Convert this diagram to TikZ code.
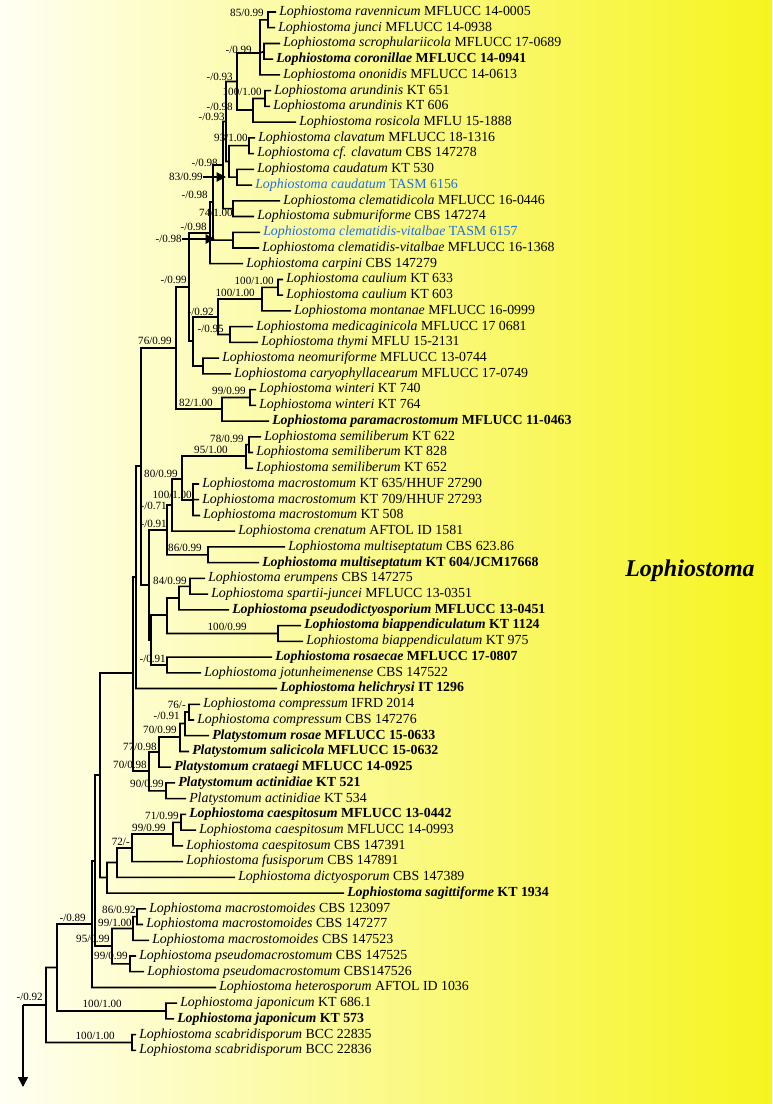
\documentclass[tikz,border=0pt]{standalone}
\usepackage{fontspec}
\setmainfont{Liberation Serif}
\usetikzlibrary{arrows.meta}
\definecolor{bgleft}{RGB}{255,255,243}
\definecolor{bgmid}{RGB}{253,252,168}
\definecolor{bgright}{RGB}{246,244,30}
\definecolor{newblue}{RGB}{32,108,232}

\begin{document}
\begin{tikzpicture}[x=0.75pt, y=-0.75pt,
  branch/.style={line width=1.15pt},
  taxon/.style={anchor=west, inner xsep=2.25pt, inner ysep=0pt, text height=7pt, text depth=2pt, font=\fontsize{10.4}{12}\selectfont},
  support/.style={anchor=east, inner sep=0pt, text height=5.6pt, text depth=0.3pt, font=\fontsize{8.3}{9}\selectfont},
  pointer/.style={line width=0.9pt, -{Triangle[length=7pt, width=7pt]}}]

\shade[left color=bgleft, middle color=bgmid, right color=bgright] (0,0) rectangle (772,1104);

% taxa
\node[taxon] (t01) at (276,12.0) {\textit{Lophiostoma ravennicum} MFLUCC 14-0005};
\node[taxon] (t02) at (275,27.7) {\textit{Lophiostoma junci} MFLUCC 14-0938};
\node[taxon] (t03) at (280,43.5) {\textit{Lophiostoma scrophulariicola} MFLUCC 17-0689};
\node[taxon] (t04) at (273,59.2) {\bfseries\textit{Lophiostoma coronillae} MFLUCC 14-0941};
\node[taxon] (t05) at (280,74.9) {\textit{Lophiostoma ononidis} MFLUCC 14-0613};
\node[taxon] (t06) at (271,90.7) {\textit{Lophiostoma arundinis} KT 651};
\node[taxon] (t07) at (270,106.4) {\textit{Lophiostoma arundinis} KT 606};
\node[taxon] (t08) at (296,122.1) {\textit{Lophiostoma rosicola} MFLU 15-1888};
\node[taxon] (t09) at (255,137.9) {\textit{Lophiostoma clavatum} MFLUCC 18-1316};
\node[taxon] (t10) at (254,153.6) {\textit{Lophiostoma cf. clavatum} CBS 147278};
\node[taxon] (t11) at (254,169.3) {\textit{Lophiostoma caudatum} KT 530};
\node[taxon, text=newblue] (t12) at (252,185.1) {\textit{Lophiostoma caudatum} TASM 6156};
\node[taxon] (t13) at (280,200.8) {\textit{Lophiostoma clematidicola} MFLUCC 16-0446};
\node[taxon] (t14) at (254,216.5) {\textit{Lophiostoma submuriforme} CBS 147274};
\node[taxon, text=newblue] (t15) at (260,232.3) {\textit{Lophiostoma clematidis-vitalbae} TASM 6157};
\node[taxon] (t16) at (259,248.0) {\textit{Lophiostoma clematidis-vitalbae} MFLUCC 16-1368};
\node[taxon] (t17) at (243,263.7) {\textit{Lophiostoma carpini} CBS 147279};
\node[taxon] (t18) at (283,279.5) {\textit{Lophiostoma caulium} KT 633};
\node[taxon] (t19) at (283,295.2) {\textit{Lophiostoma caulium} KT 603};
\node[taxon] (t20) at (291,310.9) {\textit{Lophiostoma montanae} MFLUCC 16-0999};
\node[taxon] (t21) at (253,326.7) {\textit{Lophiostoma medicaginicola} MFLUCC 17 0681};
\node[taxon] (t22) at (258,342.4) {\textit{Lophiostoma thymi} MFLU 15-2131};
\node[taxon] (t23) at (219,358.1) {\textit{Lophiostoma neomuriforme} MFLUCC 13-0744};
\node[taxon] (t24) at (231,373.9) {\textit{Lophiostoma caryophyllacearum} MFLUCC 17-0749};
\node[taxon] (t25) at (256,389.6) {\textit{Lophiostoma winteri} KT 740};
\node[taxon] (t26) at (256,405.3) {\textit{Lophiostoma winteri} KT 764};
\node[taxon] (t27) at (269,421.1) {\bfseries\textit{Lophiostoma paramacrostomum} MFLUCC 11-0463};
\node[taxon] (t28) at (261,436.8) {\textit{Lophiostoma semiliberum} KT 622};
\node[taxon] (t29) at (253,452.5) {\textit{Lophiostoma semiliberum} KT 828};
\node[taxon] (t30) at (253,468.3) {\textit{Lophiostoma semiliberum} KT 652};
\node[taxon] (t31) at (199,484.0) {\textit{Lophiostoma macrostomum} KT 635/HHUF 27290};
\node[taxon] (t32) at (199,499.7) {\textit{Lophiostoma macrostomum} KT 709/HHUF 27293};
\node[taxon] (t33) at (200,515.5) {\textit{Lophiostoma macrostomum} KT 508};
\node[taxon] (t34) at (235,531.2) {\textit{Lophiostoma crenatum} AFTOL ID 1581};
\node[taxon] (t35) at (285,546.9) {\textit{Lophiostoma multiseptatum} CBS 623.86};
\node[taxon] (t36) at (259,562.7) {\bfseries\textit{Lophiostoma multiseptatum} KT 604/JCM17668};
\node[taxon] (t37) at (205,578.4) {\textit{Lophiostoma erumpens} CBS 147275};
\node[taxon] (t38) at (208,594.1) {\textit{Lophiostoma spartii-juncei} MFLUCC 13-0351};
\node[taxon] (t39) at (229,609.9) {\bfseries\textit{Lophiostoma pseudodictyosporium} MFLUCC 13-0451};
\node[taxon] (t40) at (301,625.6) {\bfseries\textit{Lophiostoma biappendiculatum} KT 1124};
\node[taxon] (t41) at (303,641.3) {\textit{Lophiostoma biappendiculatum} KT 975};
\node[taxon] (t42) at (272,657.1) {\bfseries\textit{Lophiostoma rosaecae} MFLUCC 17-0807};
\node[taxon] (t43) at (201,672.8) {\textit{Lophiostoma jotunheimenense} CBS 147522};
\node[taxon] (t44) at (277,688.5) {\bfseries\textit{Lophiostoma helichrysi} IT 1296};
\node[taxon] (t45) at (200,704.3) {\textit{Lophiostoma compressum} IFRD 2014};
\node[taxon] (t46) at (194,720.0) {\textit{Lophiostoma compressum} CBS 147276};
\node[taxon] (t47) at (209,735.7) {\bfseries\textit{Platystomum rosae} MFLUCC 15-0633};
\node[taxon] (t48) at (189,751.5) {\bfseries\textit{Platystomum salicicola} MFLUCC 15-0632};
\node[taxon] (t49) at (171,767.2) {\bfseries\textit{Platystomum crataegi} MFLUCC 14-0925};
\node[taxon] (t50) at (175,782.9) {\bfseries\textit{Platystomum actinidiae} KT 521};
\node[taxon] (t51) at (186,798.7) {\textit{Platystomum actinidiae} KT 534};
\node[taxon] (t52) at (186,814.4) {\bfseries\textit{Lophiostoma caespitosum} MFLUCC 13-0442};
\node[taxon] (t53) at (196,830.1) {\textit{Lophiostoma caespitosum} MFLUCC 14-0993};
\node[taxon] (t54) at (183,845.9) {\textit{Lophiostoma caespitosum} CBS 147391};
\node[taxon] (t55) at (183,861.6) {\textit{Lophiostoma fusisporum} CBS 147891};
\node[taxon] (t56) at (235,877.3) {\textit{Lophiostoma dictyosporum} CBS 147389};
\node[taxon] (t57) at (344,893.1) {\bfseries\textit{Lophiostoma sagittiforme} KT 1934};
\node[taxon] (t58) at (146,908.8) {\textit{Lophiostoma macrostomoides} CBS 123097};
\node[taxon] (t59) at (143,924.5) {\textit{Lophiostoma macrostomoides} CBS 147277};
\node[taxon] (t60) at (149,940.3) {\textit{Lophiostoma macrostomoides} CBS 147523};
\node[taxon] (t61) at (136,956.0) {\textit{Lophiostoma pseudomacrostomum} CBS 147525};
\node[taxon] (t62) at (144,971.7) {\textit{Lophiostoma pseudomacrostomum} CBS147526};
\node[taxon] (t63) at (216,987.5) {\textit{Lophiostoma heterosporum} AFTOL ID 1036};
\node[taxon] (t64) at (177,1003.2) {\textit{Lophiostoma japonicum} KT 686.1};
\node[taxon] (t65) at (174,1018.9) {\bfseries\textit{Lophiostoma japonicum} KT 573};
\node[taxon] (t66) at (136,1034.7) {\textit{Lophiostoma scabridisporum} BCC 22835};
\node[taxon] (t67) at (136,1050.4) {\textit{Lophiostoma scabridisporum} BCC 22836};

% internal nodes
\coordinate (P1) at (268,19.9);
\coordinate (P2) at (264,51.3);
\coordinate (A) at (260,53);
\coordinate (AR) at (265,98.5);
\coordinate (Q) at (253,110);
\coordinate (B) at (237,81.5);
\coordinate (CL) at (249,145.7);
\coordinate (CA) at (237,177.2);
\coordinate (C) at (229,161.5);
\coordinate (R) at (226,121.5);
\coordinate (K) at (233,208.7);
\coordinate (L) at (223,165);
\coordinate (CV) at (233,240.1);
\coordinate (M) at (213,202);
\coordinate (I) at (210,233);
\coordinate (CP) at (278,287.3);
\coordinate (CM) at (262,299);
\coordinate (MT) at (230,334.5);
\coordinate (E) at (218,317);
\coordinate (NC) at (203,366);
\coordinate (F) at (193,341);
\coordinate (D) at (189,287);
\coordinate (WP) at (250,397.5);
\coordinate (H) at (222,409);
\coordinate (G) at (176,348);
\coordinate (SP) at (249,444.7);
\coordinate (SL) at (246,456);
\coordinate (MC) at (193,500);
\coordinate (CC) at (182,479);
\coordinate (DD) at (172,505);
\coordinate (MS) at (208,554.8);
\coordinate (EE) at (167,530);
\coordinate (EJ) at (190,586.3);
\coordinate (GG) at (179,598);
\coordinate (BI) at (278,633.5);
\coordinate (HH) at (167,615);
\coordinate (RJ) at (167,665);
\coordinate (II) at (151,640);
\coordinate (FF) at (149,585);
\coordinate (JJ) at (141,466);
\coordinate (KK) at (136,577);
\coordinate (CO) at (189,712);
\coordinate (P91) at (185,723.5);
\coordinate (P70) at (180,737);
\coordinate (P77) at (159,752);
\coordinate (AP) at (166,790.8);
\coordinate (PL) at (149,771);
\coordinate (BB) at (133,673);
\coordinate (CS) at (181,822.3);
\coordinate (AA) at (173,834);
\coordinate (Z) at (132,848);
\coordinate (Y) at (117,862.5);
\coordinate (X) at (107,877.5);
\coordinate (W) at (100,775);
\coordinate (MP) at (137,916.7);
\coordinate (V) at (133,928.5);
\coordinate (PM) at (130,963.9);
\coordinate (U) at (112,946);
\coordinate (T2) at (95,861);
\coordinate (T) at (92,924);
\coordinate (JP) at (166,1011);
\coordinate (N) at (57,967.5);
\coordinate (SC) at (132,1042.5);
\coordinate (RT) at (46,1005);
\coordinate (root) at (23,1005);
\coordinate (rootend) at (23,1087);

% branches
\draw[branch] (P1) |- (t01.west) (P1) |- (t02.west)
  (P2) |- (t03.west) (P2) |- (t04.west)
  (A) |- (P1) (A) -- (P2) (A) |- (t05.west)
  (AR) |- (t06.west) (AR) |- (t07.west)
  (Q) |- (AR) (Q) |- (t08.west)
  (B) |- (A) (B) |- (Q)
  (CL) |- (t09.west) (CL) |- (t10.west)
  (CA) |- (t11.west) (CA) |- (t12.west)
  (C) |- (CL) (C) |- (CA)
  (R) |- (B) (R) |- (C)
  (K) |- (t13.west) (K) |- (t14.west)
  (L) |- (R) (L) |- (K)
  (CV) |- (t15.west) (CV) |- (t16.west)
  (M) |- (L) (M) |- (CV)
  (I) |- (M) (I) |- (t17.west)
  (CP) |- (t18.west) (CP) |- (t19.west)
  (CM) |- (CP) (CM) |- (t20.west)
  (MT) |- (t21.west) (MT) |- (t22.west)
  (E) |- (CM) (E) |- (MT)
  (NC) |- (t23.west) (NC) |- (t24.west)
  (F) |- (E) (F) |- (NC)
  (D) |- (I) (D) |- (F)
  (WP) |- (t25.west) (WP) |- (t26.west)
  (H) |- (WP) (H) |- (t27.west)
  (G) |- (D) (G) |- (H)
  (SP) |- (t28.west) (SP) |- (t29.west)
  (SL) |- (SP) (SL) |- (t30.west)
  (MC) |- (t31.west) (MC) |- (t32.west) (MC) |- (t33.west)
  (CC) |- (SL) (CC) |- (MC)
  (DD) |- (CC) (DD) |- (t34.west)
  (MS) |- (t35.west) (MS) |- (t36.west)
  (EE) |- (DD) (EE) |- (MS)
  (EJ) |- (t37.west) (EJ) |- (t38.west)
  (GG) |- (EJ) (GG) |- (t39.west)
  (BI) |- (t40.west) (BI) |- (t41.west)
  (HH) |- (GG) (HH) |- (BI)
  (RJ) |- (t42.west) (RJ) |- (t43.west)
  (II) |- (HH) (II) |- (RJ)
  (FF) |- (EE) (FF) |- (II)
  (JJ) |- (G) (JJ) |- (FF)
  (KK) |- (JJ) (KK) |- (t44.west)
  (CO) |- (t45.west) (CO) |- (t46.west)
  (P91) |- (CO) (P91) |- (t47.west)
  (P70) |- (P91) (P70) |- (t48.west)
  (P77) |- (P70) (P77) |- (t49.west)
  (AP) |- (t50.west) (AP) |- (t51.west)
  (PL) |- (P77) (PL) |- (AP)
  (BB) |- (KK) (BB) |- (PL)
  (CS) |- (t52.west) (CS) |- (t53.west)
  (AA) |- (CS) (AA) |- (t54.west)
  (Z) |- (AA) (Z) |- (t55.west)
  (Y) |- (Z) (Y) |- (t56.west)
  (X) |- (Y) (X) |- (t57.west)
  (W) |- (BB) (W) |- (X)
  (MP) |- (t58.west) (MP) |- (t59.west)
  (V) |- (MP) (V) |- (t60.west)
  (PM) |- (t61.west) (PM) |- (t62.west)
  (U) |- (V) (U) |- (PM)
  (T2) |- (W) (T2) |- (U)
  (T) |- (T2) (T) |- (t63.west)
  (JP) |- (t64.west) (JP) |- (t65.west)
  (N) |- (T) (N) |- (JP)
  (SC) |- (t66.west) (SC) |- (t67.west)
  (RT) |- (N) (RT) |- (SC)
  (root) -- (RT);
\draw[branch, -{Triangle[length=7.5pt, width=7.5pt]}] (root) -- (rootend);

% support values
\node[support] (sP1) at (264,13) {85/0.99};
\node[support] (sA) at (252,50) {-/0.99};
\node[support] (sB) at (233,77) {-/0.93};
\node[support] (sAR) at (262,92) {100/1.00};
\node[support] (sQ) at (233,107) {-/0.98};
\node[support] (sR) at (225,117) {-/0.93};
\node[support] (sCL) at (248,138) {93/1.00};
\node[support] (sL) at (218,163) {-/0.98};
\node[support] (sC) at (203,177) {83/0.99};
\node[support] (sM) at (208,195) {-/0.98};
\node[support] (sK) at (233,213) {74/1.00};
\node[support] (sI) at (207,227) {-/0.98};
\node[support] (sI2) at (182,239) {-/0.98};
\node[support] (sD) at (187,280) {-/0.99};
\node[support] (sCP) at (274,281) {100/1.00};
\node[support] (sCM) at (255,293) {100/1.00};
\node[support] (sE) at (214,312) {-/0.92};
\node[support] (sMT) at (224,329) {-/0.95};
\node[support] (sG) at (172,341) {76/0.99};
\node[support] (sWP) at (246,391) {99/0.99};
\node[support] (sH) at (213,403) {82/1.00};
\node[support] (sSP) at (244,439) {78/0.99};
\node[support] (sSL) at (228,450) {95/1.00};
\node[support] (sCC) at (178,474) {80/0.99};
\node[support] (sMC) at (192,495) {100/1.00};
\node[support] (sDD) at (167,506) {-/0.71};
\node[support] (sEE) at (167,524) {-/0.91};
\node[support] (sMS) at (202,548) {86/0.99};
\node[support] (sEJ) at (187,581) {84/0.99};
\node[support] (sBI) at (247,627) {100/0.99};
\node[support] (sRJ) at (166,659) {-/0.91};
\node[support] (sCO) at (186,705) {76/-};
\node[support] (sP91) at (180,716) {-/0.91};
\node[support] (sP70) at (177,730) {70/0.99};
\node[support] (sP77) at (157,747) {77/0.98};
\node[support] (sPL) at (147,765) {70/0.98};
\node[support] (sAP) at (164,784) {90/0.99};
\node[support] (sCS) at (179,816) {71/0.99};
\node[support] (sAA) at (166,828) {99/0.99};
\node[support] (sZ) at (130,842) {72/-};
\node[support] (sMP) at (136,910) {86/0.92};
\node[support] (sV) at (132,923) {99/1.00};
\node[support] (sT) at (86,918) {-/0.89};
\node[support] (sU) at (110,939) {95/0.99};
\node[support] (sPM) at (128,956) {99/0.99};
\node[support] (sRT) at (43,997) {-/0.92};
\node[support] (sJP) at (122,1004) {100/1.00};
\node[support] (sSC) at (115,1036) {100/1.00};

\coordinate (aC) at (226,177);
\coordinate (aI) at (215,239);
\draw[pointer] (sC.east) -- (aC);
\draw[pointer] (sI2.east) -- (aI);

\node[font=\fontsize{18}{20}\selectfont\bfseries\itshape] (clade) at (690,571) {Lophiostoma};
\end{tikzpicture}
\end{document}
